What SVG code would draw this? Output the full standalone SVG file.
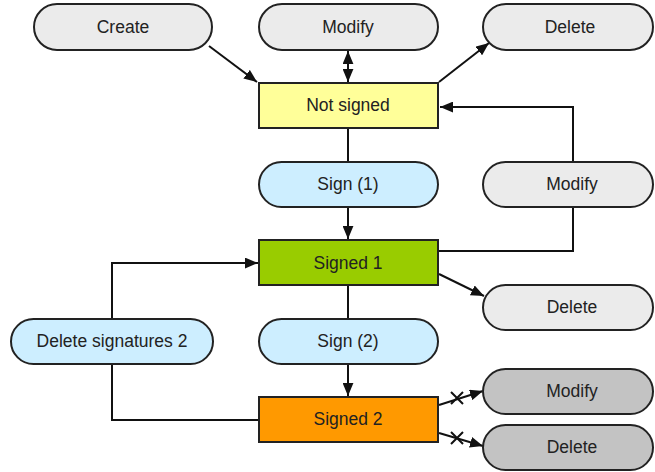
<svg xmlns="http://www.w3.org/2000/svg" width="655" height="472" viewBox="0 0 655 472">
<style>
.pill{stroke:#222;stroke-width:2}
.gray{fill:#ebebeb}
.dark{fill:#c3c3c3}
.blue{fill:#cdeeff}
.box{stroke:#222;stroke-width:2}
text{font-family:"Liberation Sans",Arial,sans-serif;font-size:17.5px;fill:#222;text-anchor:middle;dominant-baseline:central}
.c{fill:none;stroke:#111;stroke-width:2}
</style>
<defs>
<marker id="ah" viewBox="0 0 12 10" refX="12" refY="5" markerWidth="13" markerHeight="11" markerUnits="userSpaceOnUse" orient="auto-start-reverse">
<path d="M0,0 L12,5 L0,10 Z" fill="#111"/>
</marker>
</defs>
<g id="connectors">
<line class="c" x1="209" y1="46" x2="257" y2="82" marker-end="url(#ah)"/>
<line class="c" x1="348" y1="51" x2="348" y2="82" marker-start="url(#ah)" marker-end="url(#ah)"/>
<line class="c" x1="439" y1="82" x2="489" y2="43" marker-end="url(#ah)"/>
<polyline class="c" points="573,162 573,107 440,107" marker-end="url(#ah)"/>
<line class="c" x1="348" y1="128" x2="348" y2="162"/>
<line class="c" x1="348" y1="207" x2="348" y2="239" marker-end="url(#ah)"/>
<polyline class="c" points="573,207 573,251 439,251"/>
<polyline class="c" points="112,319 112,263 258,263" marker-end="url(#ah)"/>
<line class="c" x1="439" y1="274" x2="484" y2="296" marker-end="url(#ah)"/>
<line class="c" x1="348" y1="285" x2="348" y2="319"/>
<line class="c" x1="348" y1="364" x2="348" y2="396" marker-end="url(#ah)"/>
<polyline class="c" points="112,364 112,420 259,420"/>
<line class="c" x1="439" y1="405" x2="483" y2="391" marker-end="url(#ah)"/>
<line class="c" x1="439" y1="433" x2="483" y2="446" marker-end="url(#ah)"/>
<path class="c" d="M451,392 L463,404 M451,404 L463,392" stroke-width="1.6"/>
<path class="c" d="M451,432 L463,444 M451,444 L463,432" stroke-width="1.6"/>
</g>
<g id="create"><rect class="pill gray" x="34" y="4" width="178" height="46" rx="23"/><text x="123" y="27">Create</text></g>
<g id="modify-top"><rect class="pill gray" x="259" y="4" width="179" height="46" rx="23"/><text x="348" y="27">Modify</text></g>
<g id="delete-top"><rect class="pill gray" x="483" y="4" width="170" height="46" rx="23"/><text x="570" y="27">Delete</text></g>
<g id="not-signed"><rect class="box" fill="#ffff99" x="259" y="83" width="179" height="45"/><text x="348" y="105">Not signed</text></g>
<g id="sign1"><rect class="pill blue" x="259" y="162" width="179" height="45" rx="22.5"/><text x="348" y="184">Sign (1)</text></g>
<g id="modify-mid"><rect class="pill gray" x="483" y="162" width="170" height="45" rx="22.5"/><text x="572" y="184">Modify</text></g>
<g id="signed1"><rect class="box" fill="#99cc00" x="259" y="240" width="179" height="45"/><text x="348" y="263">Signed 1</text></g>
<g id="delete-mid"><rect class="pill gray" x="483" y="285" width="170" height="45" rx="22.5"/><text x="572" y="307">Delete</text></g>
<g id="delete-sig2"><rect class="pill blue" x="11" y="319" width="202" height="45" rx="22.5"/><text x="112" y="341">Delete signatures 2</text></g>
<g id="sign2"><rect class="pill blue" x="259" y="319" width="179" height="45" rx="22.5"/><text x="348" y="341">Sign (2)</text></g>
<g id="signed2"><rect class="box" fill="#ff9900" x="259" y="397" width="179" height="45"/><text x="348" y="419">Signed 2</text></g>
<g id="modify-bottom"><rect class="pill dark" x="483" y="369" width="170" height="45" rx="22.5"/><text x="572" y="391">Modify</text></g>
<g id="delete-bottom"><rect class="pill dark" x="483" y="425" width="170" height="45" rx="22.5"/><text x="572" y="447">Delete</text></g>
</svg>
